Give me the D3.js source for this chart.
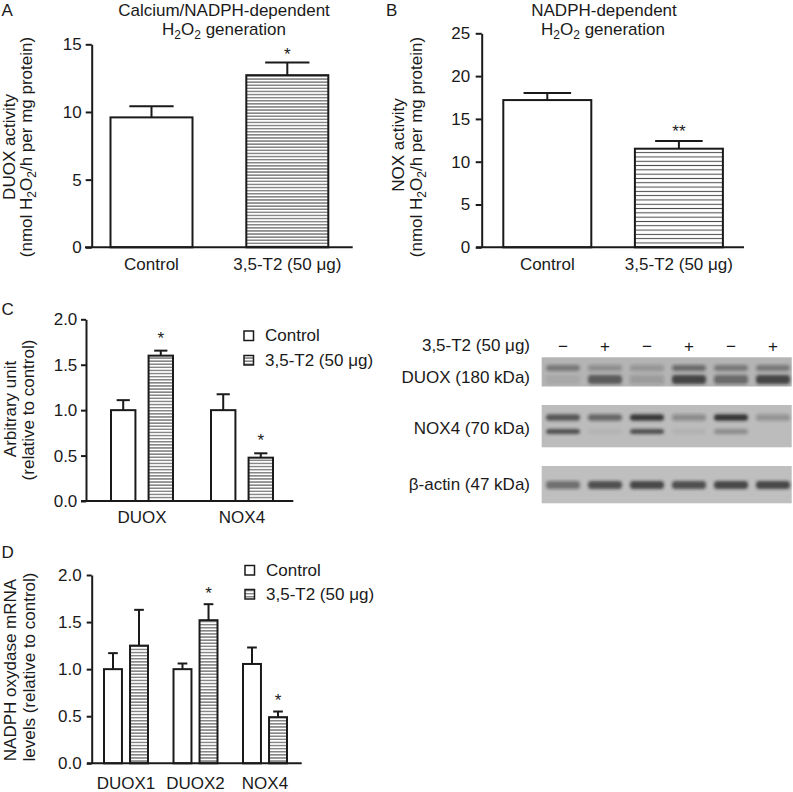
<!DOCTYPE html>
<html><head><meta charset="utf-8">
<script src="https://cdn.jsdelivr.net/npm/d3@7"></script>
<style>
body{margin:0;background:#fff}
svg{display:block;font-family:"Liberation Sans",Arial,Helvetica,sans-serif}
</style>
</head><body>
<svg id="fig" width="793" height="792"></svg>
<script>
// ---------------- DATA ----------------
const aCategories = ["Control", "3,5-T2 (50 μg)"];
const aValues = [9.6, 12.72];
const aErrors = [0.82, 0.93];
const aSignif = ["", "*"];
const aTicks = [0, 5, 10, 15];

const bCategories = ["Control", "3,5-T2 (50 μg)"];
const bValues = [17.2, 11.52];
const bErrors = [0.83, 0.9];
const bSignif = ["", "**"];
const bTicks = [0, 5, 10, 15, 20, 25];

const seriesNames = ["Control", "3,5-T2 (50 μg)"];

const cGroups = ["DUOX", "NOX4"];
const cControl = [1.0, 1.0];
const cControlErr = [0.11, 0.175];
const cT2 = [1.60, 0.477];
const cT2Err = [0.055, 0.048];
const cSignif = ["*", "*"];

const dGroups = ["DUOX1", "DUOX2", "NOX4"];
const dControl = [1.0, 1.0, 1.055];
const dControlErr = [0.17, 0.06, 0.175];
const dT2 = [1.25, 1.52, 0.49];
const dT2Err = [0.38, 0.17, 0.06];
const dSignif = ["", "*", "*"];

const relTicks = [0, 0.5, 1.0, 1.5, 2.0];

const blotTreatment = ["−", "+", "−", "+", "−", "+"];
const duoxUpper = [0.45, 0.3, 0.25, 0.55, 0.45, 0.45];
const duoxLower = [0.08, 0.7, 0.2, 0.85, 0.55, 0.85];
const nox4Upper = [0.75, 0.6, 0.95, 0.35, 1.0, 0.3];
const nox4Lower = [0.8, 0.05, 0.8, 0.06, 0.35, 0.0];
const actinBand = [0.55, 0.8, 0.85, 0.8, 0.85, 0.85];

// ---------------- SETUP ----------------
const svg = d3.select("#fig");
svg.append("rect").attr("width", 793).attr("height", 792).attr("fill", "#fff");
const INK = "#1a1a1a";
const FS = 17;
const defs = svg.append("defs");

function hatch(id, period) {
  const p = defs.append("pattern").attr("id", id).attr("patternUnits", "userSpaceOnUse")
    .attr("width", 10).attr("height", period);
  p.append("rect").attr("width", 10).attr("height", period).attr("fill", "#fff");
  p.append("line").attr("x1", 0).attr("x2", 10).attr("y1", period / 2).attr("y2", period / 2)
    .attr("stroke", "#444").attr("stroke-width", 1);
}
hatch("hatchFine", 3.1);
hatch("hatchB", 4.3);

defs.append("filter").attr("id", "blur").attr("x", "-30%").attr("y", "-100%").attr("width", "160%").attr("height", "300%")
  .append("feGaussianBlur").attr("stdDeviation", 1.6);

function txt(g, x, y, s, anchor) {
  return g.append("text").attr("x", x).attr("y", y).attr("font-size", FS).attr("fill", INK)
    .attr("text-anchor", anchor || "start").text(s);
}

// text with H2O2 subscripts: parts = [[text, sub?], ...]
function richText(g, x, y, parts, anchor, transform) {
  const t = g.append("text").attr("font-size", FS).attr("fill", INK)
    .attr("text-anchor", anchor || "middle");
  if (transform) t.attr("transform", transform); else t.attr("x", x).attr("y", y);
  let sub = false;
  parts.forEach(([s, isSub]) => {
    const ts = t.append("tspan").text(s);
    if (isSub && !sub) { ts.attr("dy", 4).attr("font-size", 12); sub = true; }
    else if (isSub) { ts.attr("font-size", 12); }
    else if (!isSub && sub) { ts.attr("dy", -4); sub = false; }
  });
  return t;
}

function rotLabel(g, x, y, s) {
  return g.append("text").attr("transform", `translate(${x},${y}) rotate(-90)`)
    .attr("font-size", FS).attr("fill", INK).attr("text-anchor", "middle").text(s);
}

function drawAxis(g, y, axisX, ticks, tickLen, pad, fmt) {
  const ax = d3.axisLeft(y).tickValues(ticks).tickSize(tickLen).tickSizeOuter(0)
    .tickPadding(pad).tickFormat(fmt);
  const ag = g.append("g").attr("transform", `translate(${axisX},0)`).call(ax);
  ag.select(".domain").attr("stroke", INK).attr("stroke-width", 2);
  ag.selectAll(".tick line").attr("stroke", INK).attr("stroke-width", 2);
  ag.selectAll(".tick text").attr("font-size", FS).attr("fill", INK)
    .attr("font-family", "Liberation Sans, Arial, sans-serif");
  return ag;
}

function drawBar(g, cx, w, v, e, y, fill, sig, sigOff) {
  g.append("rect").attr("x", cx - w / 2).attr("y", y(v)).attr("width", w)
    .attr("height", y(0) - y(v)).attr("fill", fill).attr("stroke", INK).attr("stroke-width", 2);
  const top = y(v + e);
  g.append("line").attr("x1", cx).attr("x2", cx).attr("y1", y(v)).attr("y2", top)
    .attr("stroke", INK).attr("stroke-width", 2);
  const cw = w * 0.54;
  g.append("line").attr("x1", cx - cw / 2).attr("x2", cx + cw / 2).attr("y1", top).attr("y2", top)
    .attr("stroke", INK).attr("stroke-width", 2);
  if (sig) txt(g, cx, top - sigOff, sig, "middle");
}

// ---------------- PANEL A ----------------
(function () {
  const g = svg.append("g");
  const y = d3.scaleLinear().domain([0, 15]).range([247.3, 44.3]);
  const x = d3.scalePoint().domain(aCategories).range([151.5, 287.3]);
  const fills = ["#fff", "url(#hatchFine)"];
  aCategories.forEach((c, i) => drawBar(g, x(c), 82, aValues[i], aErrors[i], y, fills[i], aSignif[i], 3));
  g.append("line").attr("x1", 85).attr("x2", 352.7).attr("y1", y(0)).attr("y2", y(0))
    .attr("stroke", INK).attr("stroke-width", 2);
  drawAxis(g, y, 91.7, aTicks, 6, 4, d3.format("d"));
  aCategories.forEach(c => txt(g, x(c), 270, c, "middle"));
  txt(g, 1.5, 15.5, "A");
  txt(g, 224, 15.5, "Calcium/NADPH-dependent", "middle");
  richText(g, 224, 34.5, [["H"], ["2", 1], ["O"], ["2", 1], [" generation"]], "middle");
  rotLabel(g, 15, 147, "DUOX activity");
  richText(g, 0, 0, [["(nmol H"], ["2", 1], ["O"], ["2", 1], ["/h per mg protein)"]], "middle",
    "translate(31.5,147) rotate(-90)");
})();

// ---------------- PANEL B ----------------
(function () {
  const g = svg.append("g");
  const y = d3.scaleLinear().domain([0, 25]).range([247.3, 33.3]);
  const x = d3.scalePoint().domain(bCategories).range([547.3, 678.9]);
  const fills = ["#fff", "url(#hatchB)"];
  bCategories.forEach((c, i) => drawBar(g, x(c), 88, bValues[i], bErrors[i], y, fills[i], bSignif[i], 3.5));
  g.append("line").attr("x1", 476).attr("x2", 744).attr("y1", y(0)).attr("y2", y(0))
    .attr("stroke", INK).attr("stroke-width", 2);
  drawAxis(g, y, 481.7, bTicks, 6, 5.5, d3.format("d"));
  bCategories.forEach(c => txt(g, x(c), 269.5, c, "middle"));
  txt(g, 386, 15.5, "B");
  txt(g, 604, 15.5, "NADPH-dependent", "middle");
  richText(g, 603, 34.5, [["H"], ["2", 1], ["O"], ["2", 1], [" generation"]], "middle");
  rotLabel(g, 403.5, 145, "NOX activity");
  richText(g, 0, 0, [["(nmol H"], ["2", 1], ["O"], ["2", 1], ["/h per mg protein)"]], "middle",
    "translate(422,147) rotate(-90)");
})();

// ---------------- grouped panel helper ----------------
function groupedPanel(o) {
  const g = svg.append("g");
  const y = d3.scaleLinear().domain([0, 2]).range(o.yRange);
  const x = d3.scalePoint().domain(o.groups).range(o.xRange);
  const inner = d3.scaleBand().domain(seriesNames).range(o.innerRange).paddingInner(o.innerPad);
  const w = inner.bandwidth();
  o.groups.forEach((grp, i) => {
    const c0 = x(grp) + inner(seriesNames[0]) + w / 2;
    const c1 = x(grp) + inner(seriesNames[1]) + w / 2;
    drawBar(g, c0, w, o.ctrl[i], o.ctrlErr[i], y, "#fff", "", 0);
    drawBar(g, c1, w, o.t2[i], o.t2Err[i], y, "url(#hatchFine)", o.sig[i], o.sigOff);
  });
  g.append("line").attr("x1", o.base[0]).attr("x2", o.base[1]).attr("y1", y(0)).attr("y2", y(0))
    .attr("stroke", INK).attr("stroke-width", 2);
  drawAxis(g, y, o.axisX, relTicks, 5, o.pad, d3.format(".1f"));
  o.groups.forEach(grp => txt(g, x(grp), o.labelY, grp, "middle"));
  // legend
  const lg = g.append("g");
  seriesNames.forEach((s, i) => {
    lg.append("rect").attr("x", o.legend[0]).attr("y", o.legend[1] + i * o.legend[2])
      .attr("width", 9.5).attr("height", 9.5)
      .attr("fill", i === 0 ? "#fff" : "url(#hatchFine)").attr("stroke", INK).attr("stroke-width", 1.5);
    txt(lg, o.legend[0] + 21, o.legend[1] + 10 + i * o.legend[2], s);
  });
  return g;
}

// ---------------- PANEL C ----------------
(function () {
  const g = groupedPanel({
    groups: cGroups, ctrl: cControl, ctrlErr: cControlErr, t2: cT2, t2Err: cT2Err, sig: cSignif,
    yRange: [501, 319.3], xRange: [142, 242], innerRange: [-31, 31], innerPad: 0.35,
    base: [81, 293.3], axisX: 86, pad: 3.7, labelY: 523, sigOff: 7, legend: [244, 331, 24.5]
  });
  txt(g, 1.5, 315, "C");
  rotLabel(g, 16, 409, "Arbitrary unit");
  rotLabel(g, 34, 410, "(relative to control)");
})();

// ---------------- PANEL D ----------------
(function () {
  const g = groupedPanel({
    groups: dGroups, ctrl: dControl, ctrlErr: dControlErr, t2: dT2, t2Err: dT2Err, sig: dSignif,
    yRange: [763.3, 575], xRange: [126, 265], innerRange: [-22, 22], innerPad: 0.31,
    base: [87, 301.7], axisX: 91.7, pad: 5, labelY: 789, sigOff: 5.5, legend: [245, 565.5, 24]
  });
  txt(g, 1.5, 558, "D");
  rotLabel(g, 15.5, 670, "NADPH oxydase mRNA");
  rotLabel(g, 35, 667, "levels (relative to control)");
})();

// ---------------- WESTERN BLOT ----------------
(function () {
  const g = svg.append("g");
  const lane = d3.scalePoint().domain(d3.range(blotTreatment.length)).range([563, 773]);
  txt(g, 530, 351, "3,5-T2 (50 μg)", "end");
  blotTreatment.forEach((s, i) => txt(g, lane(i), 352, s, "middle"));
  txt(g, 530, 382.5, "DUOX (180 kDa)", "end");
  txt(g, 530, 433.5, "NOX4 (70 kDa)", "end");
  txt(g, 530, 489.5, "β-actin (47 kDa)", "end");

  const strips = [
    { y0: 357.3, y1: 386.5, bg: "#b4b4b4" },
    { y0: 405, y1: 447.3, bg: "#bcbcbc" },
    { y0: 466, y1: 503.3, bg: "#bfbfbf" }
  ];
  strips.forEach(s => g.append("rect").attr("x", 541.7).attr("y", s.y0).attr("width", 250)
    .attr("height", s.y1 - s.y0).attr("fill", s.bg));

  const bands = [
    { vals: duoxUpper, cy: 368, h: 6 },
    { vals: duoxLower, cy: 379.5, h: 9 },
    { vals: nox4Upper, cy: 417.5, h: 6.5 },
    { vals: nox4Lower, cy: 431.5, h: 5 },
    { vals: actinBand, cy: 485, h: 8 }
  ];
  const bg = g.append("g").attr("filter", "url(#blur)");
  bands.forEach(b => {
    b.vals.forEach((v, i) => {
      if (v <= 0) return;
      bg.append("rect").attr("x", lane(i) - 17).attr("y", b.cy - b.h / 2).attr("width", 34)
        .attr("height", b.h).attr("rx", 3).attr("fill", "#1c1c1c").attr("opacity", v * 0.85);
    });
  });
})();
</script>
</body></html>
